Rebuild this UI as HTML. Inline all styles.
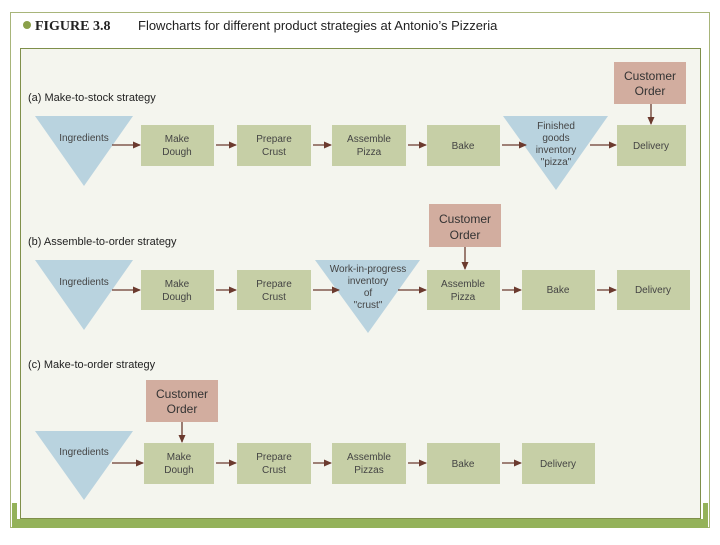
<!DOCTYPE html>
<html><head><meta charset="utf-8"><style>
body{margin:0;width:720px;height:540px;background:#fff;overflow:hidden;font-family:"Liberation Sans",sans-serif}
</style></head><body>
<svg width="720" height="540" viewBox="0 0 720 540" xmlns="http://www.w3.org/2000/svg" font-family="Liberation Sans, sans-serif">
<defs><marker id="ar" markerWidth="8" markerHeight="8" refX="7" refY="4" orient="auto" markerUnits="userSpaceOnUse"><path d="M0,0.5 L8,4 L0,7.5 Z" fill="#6b3a2e"/></marker></defs>
<rect x="10.5" y="12.5" width="699" height="515" fill="none" stroke="#a8b57a" stroke-width="1"/>
<rect x="0" y="0" width="720" height="12" fill="#fff"/>
<rect x="20.5" y="48.5" width="680" height="470" fill="#f4f5ee" stroke="#7f8f4a" stroke-width="1"/>
<rect x="12" y="519" width="696" height="9" fill="#94b25a"/>
<rect x="12" y="503" width="5" height="25" fill="#94b25a"/>
<rect x="703" y="503" width="5" height="25" fill="#94b25a"/>
<circle cx="27" cy="25" r="4" fill="#8aa04a"/>
<text x="35" y="30" font-family="Liberation Serif, serif" font-weight="bold" font-size="14" fill="#222">FIGURE 3.8</text>
<text x="138" y="30" font-size="13" fill="#222">Flowcharts for different product strategies at Antonio’s Pizzeria</text>
<g font-size="11" fill="#222">
<text x="28" y="101">(a) Make-to-stock strategy</text>
<text x="28" y="245">(b) Assemble-to-order strategy</text>
<text x="28" y="368">(c) Make-to-order strategy</text>
</g>
<g fill="#c6cfa6"><rect x="141" y="125" width="73" height="41"/><rect x="237" y="125" width="74" height="41"/><rect x="332" y="125" width="74" height="41"/><rect x="427" y="125" width="73" height="41"/><rect x="617" y="125" width="69" height="41"/>
<rect x="141" y="270" width="73" height="40"/><rect x="237" y="270" width="74" height="40"/><rect x="427" y="270" width="73" height="40"/><rect x="522" y="270" width="73" height="40"/><rect x="617" y="270" width="73" height="40"/>
<rect x="144" y="443" width="70" height="41"/><rect x="237" y="443" width="74" height="41"/><rect x="332" y="443" width="74" height="41"/><rect x="427" y="443" width="73" height="41"/><rect x="522" y="443" width="73" height="41"/></g>
<g fill="#b9d3df"><polygon points="35,116 133,116 84,186"/><polygon points="503,116 608,116 556,190"/><polygon points="35,260 133,260 84,330"/><polygon points="315,260 420,260 368,333"/><polygon points="35,431 133,431 84,500"/></g>
<g fill="#d2ad9f"><rect x="614" y="62" width="72" height="42"/><rect x="429" y="204" width="72" height="43"/><rect x="146" y="380" width="72" height="42"/></g>
<g stroke="#6b3a2e" stroke-width="1.3" marker-end="url(#ar)">
<line x1="112" y1="145" x2="140" y2="145"/><line x1="216" y1="145" x2="236" y2="145"/><line x1="313" y1="145" x2="331" y2="145"/><line x1="408" y1="145" x2="426" y2="145"/><line x1="502" y1="145" x2="526" y2="145"/><line x1="590" y1="145" x2="616" y2="145"/><line x1="651" y1="104" x2="651" y2="124"/>
<line x1="112" y1="290" x2="140" y2="290"/><line x1="216" y1="290" x2="236" y2="290"/><line x1="313" y1="290" x2="339" y2="290"/><line x1="398" y1="290" x2="426" y2="290"/><line x1="502" y1="290" x2="521" y2="290"/><line x1="597" y1="290" x2="616" y2="290"/><line x1="465" y1="247" x2="465" y2="269"/>
<line x1="112" y1="463" x2="143" y2="463"/><line x1="216" y1="463" x2="236" y2="463"/><line x1="313" y1="463" x2="331" y2="463"/><line x1="408" y1="463" x2="426" y2="463"/><line x1="502" y1="463" x2="521" y2="463"/><line x1="182" y1="422" x2="182" y2="442"/>
</g>
<g font-size="10" fill="#444" text-anchor="middle">
<text x="84" y="141">Ingredients</text><text x="177" y="142">Make</text><text x="177" y="155">Dough</text><text x="274" y="142">Prepare</text><text x="274" y="155">Crust</text><text x="369" y="142">Assemble</text><text x="369" y="155">Pizza</text><text x="463" y="149">Bake</text>
<text x="556" y="129">Finished</text><text x="556" y="141">goods</text><text x="556" y="153">inventory</text><text x="556" y="165">"pizza"</text><text x="651" y="149">Delivery</text>
<text x="84" y="285">Ingredients</text><text x="177" y="287">Make</text><text x="177" y="300">Dough</text><text x="274" y="287">Prepare</text><text x="274" y="300">Crust</text>
<text x="368" y="272">Work-in-progress</text><text x="368" y="284">inventory</text><text x="368" y="296">of</text><text x="368" y="308">"crust"</text>
<text x="463" y="287">Assemble</text><text x="463" y="300">Pizza</text><text x="558" y="293">Bake</text><text x="653" y="293">Delivery</text>
<text x="84" y="455">Ingredients</text><text x="179" y="460">Make</text><text x="179" y="473">Dough</text><text x="274" y="460">Prepare</text><text x="274" y="473">Crust</text><text x="369" y="460">Assemble</text><text x="369" y="473">Pizzas</text><text x="463" y="467">Bake</text><text x="558" y="467">Delivery</text>
</g>
<g font-size="12" fill="#333" text-anchor="middle">
<text x="650" y="80">Customer</text><text x="650" y="95">Order</text>
<text x="465" y="223">Customer</text><text x="465" y="239">Order</text>
<text x="182" y="398">Customer</text><text x="182" y="413">Order</text>
</g>
</svg>
</body></html>
